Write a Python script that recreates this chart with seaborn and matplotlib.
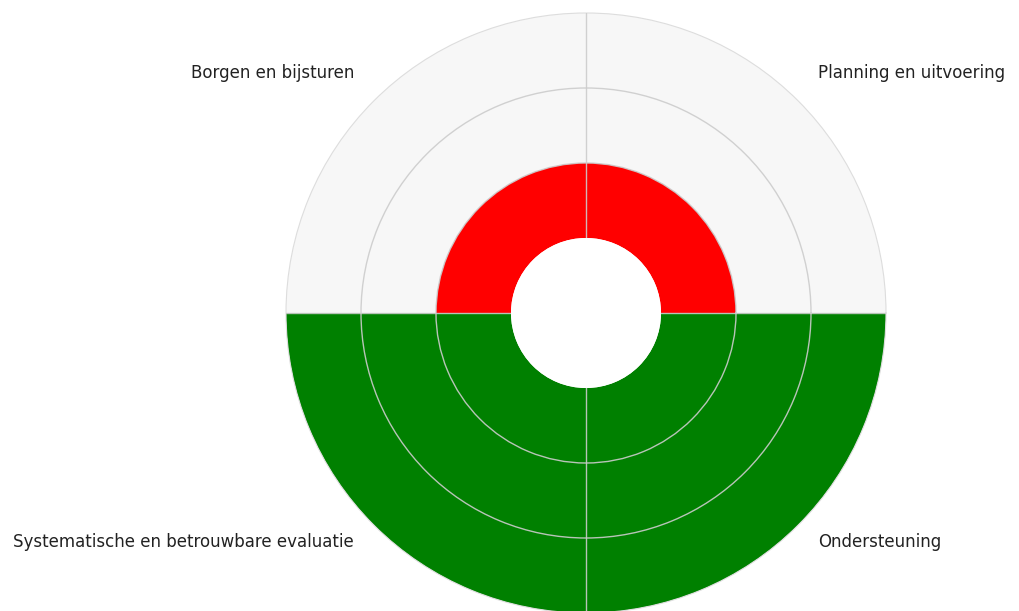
import numpy as np
import seaborn as sns
import matplotlib.pyplot as plt

categories = ["Planning en uitvoering", "Borgen en bijsturen",
              "Systematische en betrouwbare evaluatie", "Ondersteuning"]
scores = [1, 1, 3, 3]
colours = ["#ff0000", "#ff0000", "#008000", "#008000"]
max_score = 3

sns.set_style("white")
plt.rcParams['font.family'] = ['DejaVu Sans']

fig = plt.figure(figsize=(10.19, 6.11), dpi=100)
ax = fig.add_axes([286 / 1019, -2 / 611, 600 / 1019, 600 / 611], projection='polar')

theta = np.deg2rad([45, 135, 225, 315])
width = np.pi / 2
hole = 1

# grey background for every quadrant, then the scores on top
ax.bar(theta, [max_score] * 4, width=width, bottom=hole, color="#f7f7f7", linewidth=0, zorder=1)
ax.bar(theta, scores, width=width, bottom=hole, color=colours, linewidth=0, zorder=2)
# white hole in the middle, covering the grid
ax.bar(0, hole, width=2 * np.pi, bottom=0, color="white", linewidth=0, zorder=5)

ax.set_ylim(0, hole + max_score)
ax.set_yticks([2, 3])
ax.set_yticklabels([])
ax.set_xticks(np.deg2rad([0, 90, 180, 270]))
ax.set_xticklabels([])
ax.grid(True, color="#cccccc", linewidth=1, alpha=0.9)
ax.set_axisbelow(False)
ax.spines['polar'].set_color("#dddddd")

# labels in the corners
lift = [8, 8, 3, 3]
for t, name, dy in zip(theta, categories, lift):
    ha = 'left' if np.cos(t) > 0 else 'right'
    ax.annotate(name, (t, 4.375), xytext=(0, dy), textcoords='offset pixels',
                ha=ha, va='center', fontsize=12, color="#222222", annotation_clip=False)

fig.savefig("out.png", dpi=100)
